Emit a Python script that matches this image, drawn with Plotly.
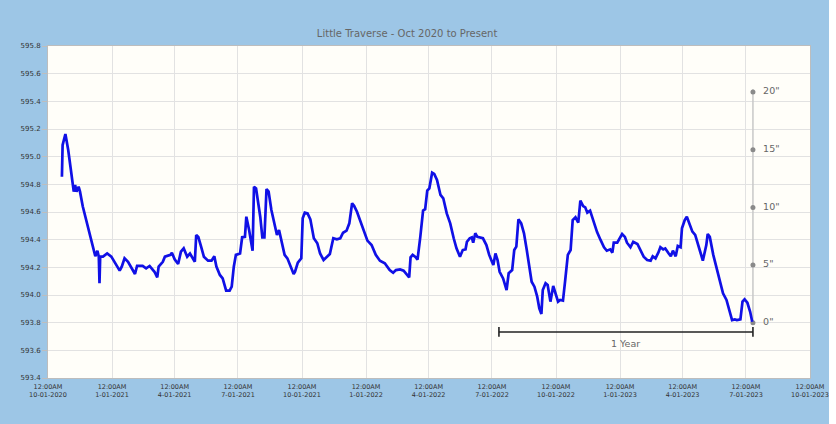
import plotly.graph_objects as go

# ---- data ----
dates = [
    "2020-10-21", "2020-10-22", "2020-10-26", "2020-10-30", "2020-11-03", "2020-11-07", "2020-11-09",
    "2020-11-11", "2020-11-14", "2020-11-16", "2020-11-20", "2020-11-25", "2020-11-30", "2020-12-04",
    "2020-12-08", "2020-12-11", "2020-12-13", "2020-12-14", "2020-12-15", "2020-12-19", "2020-12-25",
    "2020-12-31", "2021-01-07", "2021-01-12", "2021-01-15", "2021-01-19", "2021-01-24", "2021-02-03",
    "2021-02-06", "2021-02-14", "2021-02-19", "2021-02-24", "2021-03-03", "2021-03-07", "2021-03-09",
    "2021-03-15", "2021-03-18", "2021-03-26", "2021-03-28", "2021-04-01", "2021-04-06", "2021-04-10",
    "2021-04-14", "2021-04-19", "2021-04-23", "2021-04-26", "2021-04-30", "2021-05-02", "2021-05-05",
    "2021-05-09", "2021-05-13", "2021-05-19", "2021-05-24", "2021-05-28", "2021-05-31", "2021-06-05",
    "2021-06-09", "2021-06-14", "2021-06-19", "2021-06-22", "2021-06-25", "2021-06-28", "2021-07-04",
    "2021-07-07", "2021-07-11", "2021-07-13", "2021-07-17", "2021-07-22", "2021-07-24", "2021-07-27",
    "2021-08-02", "2021-08-05", "2021-08-08", "2021-08-11", "2021-08-14", "2021-08-18", "2021-08-23",
    "2021-08-26", "2021-08-29", "2021-09-02", "2021-09-06", "2021-09-10", "2021-09-14", "2021-09-19",
    "2021-09-21", "2021-09-25", "2021-09-30", "2021-10-02", "2021-10-05", "2021-10-09", "2021-10-13",
    "2021-10-18", "2021-10-23", "2021-10-27", "2021-11-01", "2021-11-06", "2021-11-10", "2021-11-15",
    "2021-11-20", "2021-11-25", "2021-11-29", "2021-12-04", "2021-12-08", "2021-12-12", "2021-12-15",
    "2021-12-19", "2021-12-24", "2021-12-29", "2022-01-03", "2022-01-09", "2022-01-15", "2022-01-21",
    "2022-01-28", "2022-02-04", "2022-02-09", "2022-02-13", "2022-02-19", "2022-02-24", "2022-03-01",
    "2022-03-04", "2022-03-06", "2022-03-09", "2022-03-13", "2022-03-16", "2022-03-20", "2022-03-24",
    "2022-03-27", "2022-03-30", "2022-04-02", "2022-04-06", "2022-04-09", "2022-04-13", "2022-04-18",
    "2022-04-22", "2022-04-27", "2022-05-02", "2022-05-07", "2022-05-11", "2022-05-16", "2022-05-20",
    "2022-05-24", "2022-05-26", "2022-05-30", "2022-06-02", "2022-06-04", "2022-06-07", "2022-06-10",
    "2022-06-14", "2022-06-18", "2022-06-23", "2022-06-27", "2022-07-01", "2022-07-03", "2022-07-06",
    "2022-07-09", "2022-07-12", "2022-07-17", "2022-07-22", "2022-07-25", "2022-07-30", "2022-08-02",
    "2022-08-05", "2022-08-08", "2022-08-12", "2022-08-16", "2022-08-20", "2022-08-24", "2022-08-27",
    "2022-08-31", "2022-09-04", "2022-09-07", "2022-09-10", "2022-09-12", "2022-09-16", "2022-09-19",
    "2022-09-23", "2022-09-27", "2022-09-30", "2022-10-04", "2022-10-07", "2022-10-11", "2022-10-14",
    "2022-10-18", "2022-10-22", "2022-10-25", "2022-10-29", "2022-11-02", "2022-11-05", "2022-11-09",
    "2022-11-12", "2022-11-15", "2022-11-19", "2022-11-24", "2022-11-29", "2022-12-04", "2022-12-09",
    "2022-12-13", "2022-12-18", "2022-12-21", "2022-12-23", "2022-12-28", "2022-12-31", "2023-01-04",
    "2023-01-08", "2023-01-11", "2023-01-16", "2023-01-20", "2023-01-26", "2023-01-30", "2023-02-04",
    "2023-02-09", "2023-02-14", "2023-02-17", "2023-02-21", "2023-02-25", "2023-02-28", "2023-03-04",
    "2023-03-07", "2023-03-12", "2023-03-15", "2023-03-18", "2023-03-22", "2023-03-25", "2023-03-29",
    "2023-03-31", "2023-04-04", "2023-04-07", "2023-04-11", "2023-04-15", "2023-04-19", "2023-04-23",
    "2023-04-27", "2023-04-30", "2023-05-03", "2023-05-05", "2023-05-07", "2023-05-10", "2023-05-15",
    "2023-05-20", "2023-05-24", "2023-05-29", "2023-06-03", "2023-06-07", "2023-06-11", "2023-06-15",
    "2023-06-18", "2023-06-23", "2023-06-26", "2023-06-29", "2023-07-03", "2023-07-07", "2023-07-10",
]
levels = [
    594.855, 595.084, 595.164, 595.050, 594.900, 594.747, 594.795,
    594.747, 594.783, 594.747, 594.640, 594.540, 594.420, 594.340,
    594.280, 594.320, 594.277, 594.085, 594.277, 594.277, 594.300,
    594.277, 594.217, 594.176, 594.205, 594.265, 594.240, 594.152,
    594.210, 594.210, 594.193, 594.210, 594.168, 594.128, 594.205,
    594.240, 594.277, 594.290, 594.306, 594.258, 594.224, 594.313,
    594.337, 594.277, 594.300, 594.277, 594.240, 594.434, 594.420,
    594.350, 594.277, 594.248, 594.248, 594.280, 594.205, 594.145,
    594.120, 594.031, 594.031, 594.060, 594.205, 594.290, 594.300,
    594.417, 594.420, 594.566, 594.470, 594.320, 594.783, 594.770,
    594.566, 594.417, 594.417, 594.766, 594.747, 594.615, 594.494,
    594.434, 594.470, 594.374, 594.290, 594.265, 594.217, 594.152,
    594.168, 594.234, 594.265, 594.554, 594.595, 594.590, 594.547,
    594.410, 594.374, 594.300, 594.253, 594.280, 594.296, 594.410,
    594.403, 594.410, 594.450, 594.465, 594.518, 594.663, 594.643,
    594.602, 594.530, 594.470, 594.393, 594.361, 594.290, 594.248,
    594.230, 594.180, 594.161, 594.180, 594.185, 594.176, 594.145,
    594.128, 594.272, 594.290, 594.275, 594.256, 594.420, 594.610,
    594.620, 594.754, 594.771, 594.884, 594.875, 594.831, 594.723,
    594.699, 594.590, 594.518, 594.410, 594.337, 594.277, 594.325,
    594.330, 594.385, 594.410, 594.417, 594.378, 594.446, 594.420,
    594.417, 594.410, 594.361, 594.290, 594.240, 594.217, 594.300,
    594.253, 594.168, 594.120, 594.036, 594.157, 594.180, 594.325,
    594.350, 594.547, 594.518, 594.446, 594.325, 594.205, 594.096,
    594.060, 593.988, 593.904, 593.863, 594.036, 594.085, 594.072,
    593.952, 594.065, 594.012, 593.952, 593.964, 593.960, 594.096,
    594.290, 594.325, 594.542, 594.562, 594.523, 594.682, 594.643,
    594.634, 594.595, 594.610, 594.525, 594.455, 594.398, 594.345,
    594.320, 594.330, 594.306, 594.378, 594.378, 594.403, 594.441,
    594.420, 594.378, 594.345, 594.385, 594.369, 594.330, 594.277,
    594.253, 594.248, 594.280, 594.265, 594.306, 594.345, 594.330,
    594.337, 594.300, 594.280, 594.320, 594.280, 594.354, 594.345,
    594.482, 594.542, 594.566, 594.518, 594.458, 594.434, 594.374,
    594.300, 594.248, 594.313, 594.361, 594.441, 594.420, 594.290,
    594.193, 594.096, 594.012, 593.964, 593.892, 593.819, 593.824,
    593.819, 593.824, 593.952, 593.969, 593.944, 593.879, 593.807,
]

tick_dates = ["2020-10-01", "2021-01-01", "2021-04-01", "2021-07-01", "2021-10-01",
              "2022-01-01", "2022-04-01", "2022-07-01", "2022-10-01", "2023-01-01",
              "2023-04-01", "2023-07-01", "2023-10-01"]
tick_labels = ["12:00AM<br>10-01-2020", "12:00AM<br>1-01-2021", "12:00AM<br>4-01-2021",
               "12:00AM<br>7-01-2021", "12:00AM<br>10-01-2021", "12:00AM<br>1-01-2022",
               "12:00AM<br>4-01-2022", "12:00AM<br>7-01-2022", "12:00AM<br>10-01-2022",
               "12:00AM<br>1-01-2023", "12:00AM<br>4-01-2023", "12:00AM<br>7-01-2023",
               "12:00AM<br>10-01-2023"]
y_ticks = [593.4, 593.6, 593.8, 594.0, 594.2, 594.4, 594.6, 594.8, 595.0, 595.2, 595.4, 595.6, 595.8]

# inch scale
scale_date = "2023-07-11"
scale_base = 593.8
scale_inches = [0, 5, 10, 15, 20]
scale_labels = ['0"', '5"', '10"', '15"', '20"']

# one-year span bar
year_start = "2022-07-11"
year_end = "2023-07-11"
year_level = 593.733
year_label = "1 Year"

title = "Little Traverse - Oct 2020 to Present"

FONT = "DejaVu Sans"
GRAY = "#666666"

fig = go.Figure()

# vertical inch-scale line
scale_vals = [scale_base + i / 12 for i in scale_inches]
fig.add_trace(go.Scatter(
    x=[scale_date, scale_date], y=[scale_base, scale_vals[-1] + 0.02],
    mode="lines", line=dict(color="#C8C8C8", width=1.5), hoverinfo="skip", showlegend=False))
fig.add_trace(go.Scatter(
    x=[scale_date] * len(scale_vals), y=scale_vals, mode="markers+text",
    marker=dict(color="#8A8A8A", size=5), text=["  " + s for s in scale_labels],
    textposition="middle right", textfont=dict(family=FONT, size=9.5, color=GRAY),
    hoverinfo="skip", showlegend=False, cliponaxis=False))

# water level line
fig.add_trace(go.Scatter(
    x=dates, y=levels, mode="lines",
    line=dict(color="#1010E6", width=2.7), showlegend=False))

# 1 year bar
fig.add_trace(go.Scatter(
    x=[year_start, year_end], y=[year_level, year_level], mode="lines+markers",
    line=dict(color="#222222", width=1.6),
    marker=dict(symbol="line-ns", size=7, line=dict(color="#222222", width=1.6)),
    hoverinfo="skip", showlegend=False))
fig.add_annotation(x="2023-01-09", y=year_level, yshift=-12, text=year_label, showarrow=False,
                   font=dict(family=FONT, size=9.5, color=GRAY))

# white strip at the far right edge of the page
fig.add_shape(type="rect", xref="paper", yref="paper",
              x0=(829 - 48) / 762, x1=(840 - 48) / 762, y0=-0.2, y1=1.2,
              fillcolor="white", line=dict(width=0), layer="above")

fig.update_layout(
    width=836, height=424,
    margin=dict(l=48, r=26, t=46, b=46, autoexpand=False),
    paper_bgcolor="#9DC6E6",
    plot_bgcolor="#FFFEF9",
    title=dict(text=title, x=0.487, xanchor="center", y=0.922, yanchor="middle",
               font=dict(family=FONT, size=10, color=GRAY)),
    xaxis=dict(range=["2020-10-01", "2023-10-01"], tickvals=tick_dates, ticktext=tick_labels,
               tickfont=dict(family=FONT, size=6.5, color="#333333"), automargin=False,
               showgrid=True, gridcolor="#E2E2E2", gridwidth=1,
               showline=True, linecolor="#BDBDBD", mirror=True, zeroline=False,
               ticks="", ticklabelstandoff=2),
    yaxis=dict(range=[593.4, 595.8], tickvals=y_ticks, ticktext=[f"{v:.1f}" for v in y_ticks],
               tickfont=dict(family=FONT, size=7, color="#333333"), automargin=False,
               showgrid=True, gridcolor="#E2E2E2", gridwidth=1,
               showline=True, linecolor="#BDBDBD", mirror=True, zeroline=False,
               ticks="outside", ticklen=5, tickcolor="#BDBDBD"),
)

fig.write_html("out.html", config={"displayModeBar": False},
               post_script="document.body.style.margin='0';")
